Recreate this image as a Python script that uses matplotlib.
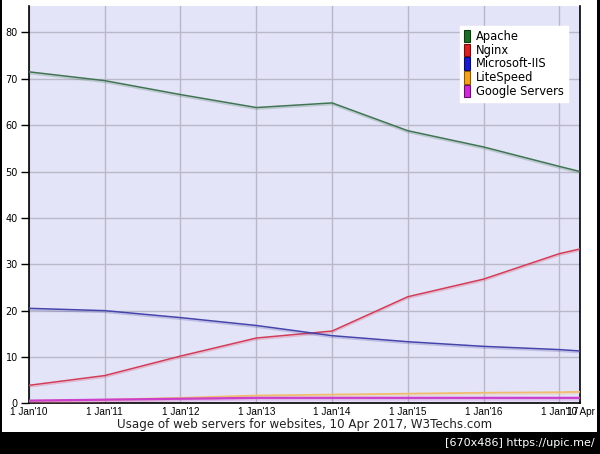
import matplotlib
matplotlib.use("Agg")
import matplotlib.pyplot as plt
import matplotlib.patheffects as pe
from matplotlib.patches import Patch, Rectangle
from datetime import date

dates = [date(2010, 1, 1), date(2011, 1, 1), date(2012, 1, 1), date(2013, 1, 1),
         date(2014, 1, 1), date(2015, 1, 1), date(2016, 1, 1), date(2017, 1, 1),
         date(2017, 4, 10)]
apache = [71.5, 69.6, 66.6, 63.8, 64.8, 58.8, 55.3, 51.1, 50.0]
nginx = [3.9, 6.0, 10.2, 14.1, 15.6, 23.0, 26.8, 32.3, 33.3]
iis = [20.5, 20.0, 18.5, 16.8, 14.6, 13.3, 12.3, 11.6, 11.3]
litespeed = [0.5, 0.8, 1.2, 1.7, 1.9, 2.1, 2.3, 2.4, 2.5]
google = [0.6, 0.8, 1.0, 1.2, 1.2, 1.2, 1.2, 1.2, 1.2]

series_names = ["Apache", "Nginx", "Microsoft-IIS", "LiteSpeed", "Google Servers"]
series_values = [apache, nginx, iis, litespeed, google]
line_colors = ["#3f7452", "#d23c58", "#4444aa", "#f0bc70", "#cc3fcc"]
line_widths = [1.1, 1.1, 1.1, 1.3, 1.6]
legend_colors = ["#1f6b26", "#d62222", "#1c1ccc", "#f7a21c", "#d02ad8"]
legend_edges = ["#0c3a10", "#7a0a0a", "#0a0a66", "#8a5a00", "#6a106a"]

tick_dates = dates
tick_labels = ["1 Jan'10", "1 Jan'11", "1 Jan'12", "1 Jan'13", "1 Jan'14",
               "1 Jan'15", "1 Jan'16", "1 Jan'17", "10 Apr"]
y_ticks = [0, 10, 20, 30, 40, 50, 60, 70, 80]
title = "Usage of web servers for websites, 10 Apr 2017, W3Techs.com"

fig = plt.figure(figsize=(6.0, 4.54), dpi=100)
fig.patch.set_facecolor("white")

# black bottom bar and thin side borders
fig.add_artist(Rectangle((0, 0), 1, 22 / 454, transform=fig.transFigure,
                         facecolor="black", edgecolor="none", zorder=0))
fig.add_artist(Rectangle((0, 0), 2 / 600, 1, transform=fig.transFigure,
                         facecolor="black", edgecolor="none", zorder=0))
fig.add_artist(Rectangle((1 - 3 / 600, 0), 3 / 600, 1, transform=fig.transFigure,
                         facecolor="black", edgecolor="none", zorder=0))

ax = fig.add_axes([29 / 600, 1 - 403.4 / 454, 551 / 600, 397.4 / 454])
ax.set_facecolor("#e4e4f8")

for name, vals, c, lw in zip(series_names, series_values, line_colors, line_widths):
    ax.plot(dates, vals, color=c, linewidth=lw, zorder=3,
            path_effects=[pe.SimpleLineShadow(offset=(0, -1.2), shadow_color=c, alpha=0.25),
                          pe.Normal()])

ax.set_xlim(dates[0], dates[-1])
ax.set_ylim(0, 85.7)
ax.set_yticks(y_ticks)
ax.set_yticklabels([str(v) for v in y_ticks], fontsize=7, family="DejaVu Sans")
ax.set_xticks(tick_dates)
ax.set_xticklabels(tick_labels, fontsize=7.2, family="Liberation Sans")
ax.tick_params(axis="y", direction="out", length=6, width=1, pad=2, color="black")
ax.tick_params(axis="x", length=0, pad=2.5)

ax.grid(True, color="#b8b8c8", linewidth=1)
ax.set_axisbelow(True)
ax.spines["top"].set_visible(False)
for s in ["left", "bottom", "right"]:
    ax.spines[s].set_color("black")
    ax.spines[s].set_linewidth(1.2)

handles = [Patch(facecolor=fc, edgecolor=ec, linewidth=0.8)
           for fc, ec in zip(legend_colors, legend_edges)]
leg = ax.legend(handles, series_names, loc="upper left",
                bbox_to_anchor=(0.782, 0.95),
                handlelength=0.55, handleheight=1.3, handletextpad=0.5,
                labelspacing=0.05, borderpad=0.35, borderaxespad=0,
                frameon=True, fancybox=False, prop={"family": "DejaVu Sans", "size": 8.3})
leg.get_frame().set_edgecolor("white")
leg.get_frame().set_facecolor("white")
leg.get_frame().set_alpha(1)

fig.text(305 / 600, 1 - 424.5 / 454, title, ha="center", va="center",
         fontsize=8.6, family="DejaVu Sans", color="#222222")
fig.text(595 / 600, 1 - 443 / 454, "[670x486] https://upic.me/", ha="right",
         va="center", fontsize=8, family="DejaVu Sans", color="white")

fig.savefig("out.png", dpi=100)
